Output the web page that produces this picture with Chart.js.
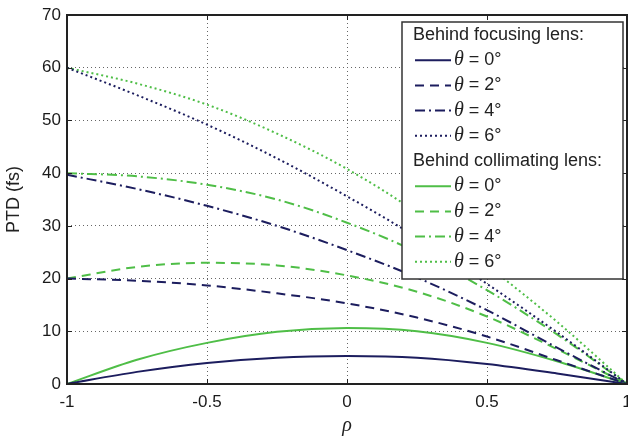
<!DOCTYPE html>
<html>
<head>
<meta charset="utf-8">
<script src="https://cdn.jsdelivr.net/npm/chart.js@4.4.0/dist/chart.umd.min.js"></script>
<style>
  html, body { margin: 0; padding: 0; background: #fff; }
  #wrap { width: 628px; height: 440px; position: relative; }
</style>
</head>
<body>
<div id="wrap"><canvas id="ptdChart"></canvas></div>
<script>
// normalised radius
const rho = [-1, -0.75, -0.5, -0.25, 0, 0.25, 0.5, 0.75, 1];

// behind focusing lens (navy)
const focus0 = [0, 2.3, 4.0, 5.0, 5.3, 5.0, 3.8, 2.0, 0];
const focus2 = [20, 19.6, 18.7, 17.2, 15.3, 12.6, 9.0, 4.5, 0];
const focus4 = [39.7, 37.0, 33.8, 30.0, 25.4, 20.2, 14.0, 6.9, 0];
const focus6 = [60, 54.8, 49.2, 42.8, 35.6, 27.8, 19.0, 9.8, 0];

// behind collimating lens (green)
const colli0 = [0, 4.6, 7.8, 9.9, 10.6, 10.0, 7.8, 4.3, 0];
const colli2 = [20, 22.2, 23.0, 22.5, 20.6, 17.5, 12.8, 6.6, 0];
const colli4 = [40, 39.4, 37.8, 35.0, 30.6, 25.0, 17.8, 9.4, 0];
const colli6 = [60, 57.0, 53.0, 47.5, 40.8, 32.5, 22.5, 11.8, 0];

const thetaLabels = ['0°', '2°', '4°', '6°'];
const xTicks = [-1, -0.5, 0, 0.5, 1];
const yTicks = [0, 10, 20, 30, 40, 50, 60, 70];

const navy = '#1c1d5e';
const green = '#4fbe47';
const dashes = [[], [9, 6], [10, 4, 2, 4], [2, 3]];

function toPoints(vals) {
    return rho.map((r, i) => ({ x: r, y: vals[i] }));
}

function makeSet(vals, color, k, group) {
    return {
        label: thetaLabels[k],
        group: group,
        data: toPoints(vals),
        borderColor: color,
        backgroundColor: color,
        borderWidth: 2,
        borderDash: dashes[k],
        pointRadius: 0,
        cubicInterpolationMode: 'monotone',
        fill: false
    };
}

const datasets = [
    makeSet(focus0, navy, 0, 'f'),
    makeSet(focus2, navy, 1, 'f'),
    makeSet(focus4, navy, 2, 'f'),
    makeSet(focus6, navy, 3, 'f'),
    makeSet(colli0, green, 0, 'c'),
    makeSet(colli2, green, 1, 'c'),
    makeSet(colli4, green, 2, 'c'),
    makeSet(colli6, green, 3, 'c')
];

const sans = '"Liberation Sans", Arial, sans-serif';

// frame, inward ticks and the two-part legend
const framePlugin = {
    id: 'frame',
    afterDatasetsDraw(chart) {
        const { ctx, chartArea: a, scales } = chart;
        ctx.save();
        ctx.strokeStyle = '#222';
        ctx.lineWidth = 1;
        ctx.setLineDash([]);
        const tl = 5;
        ctx.beginPath();
        xTicks.forEach(v => {
            const px = Math.round(scales.x.getPixelForValue(v)) + 0.5;
            ctx.moveTo(px, a.bottom); ctx.lineTo(px, a.bottom - tl);
            ctx.moveTo(px, a.top); ctx.lineTo(px, a.top + tl);
        });
        yTicks.forEach(v => {
            const py = Math.round(scales.y.getPixelForValue(v)) + 0.5;
            ctx.moveTo(a.left, py); ctx.lineTo(a.left + tl, py);
            ctx.moveTo(a.right, py); ctx.lineTo(a.right - tl, py);
        });
        ctx.stroke();
        ctx.lineWidth = 2;
        ctx.strokeRect(a.left, a.top, a.right - a.left, a.bottom - a.top);

        // legend box
        const bw = 221, bh = 257;
        const bx = a.right - 4 - bw, by = a.top + 7;
        ctx.fillStyle = '#fff';
        ctx.fillRect(bx, by, bw, bh);
        ctx.lineWidth = 1.5;
        ctx.strokeStyle = '#333';
        ctx.strokeRect(bx, by, bw, bh);

        const rowH = 25.2;
        let y = by + 13;
        ctx.textBaseline = 'middle';
        ctx.textAlign = 'left';
        const drawHeader = (txt) => {
            ctx.fillStyle = '#222';
            ctx.font = '18px ' + sans;
            ctx.fillText(txt, bx + 11, y);
            y += rowH;
        };
        const drawRow = (ds) => {
            ctx.strokeStyle = ds.borderColor;
            ctx.lineWidth = 2;
            ctx.setLineDash(ds.borderDash);
            ctx.beginPath();
            ctx.moveTo(bx + 13, y);
            ctx.lineTo(bx + 49, y);
            ctx.stroke();
            ctx.setLineDash([]);
            ctx.fillStyle = '#222';
            ctx.font = 'italic 20px "Liberation Serif", "Times New Roman", serif';
            ctx.fillText('θ', bx + 52, y);
            const w = ctx.measureText('θ').width;
            ctx.font = '18px ' + sans;
            ctx.fillText(' = ' + ds.label, bx + 52 + w, y);
            y += rowH;
        };
        drawHeader('Behind focusing lens:');
        datasets.filter(d => d.group === 'f').forEach(drawRow);
        drawHeader('Behind collimating lens:');
        datasets.filter(d => d.group === 'c').forEach(drawRow);
        ctx.restore();
    }
};

const tickFont = { family: sans, size: 17 };

const config = {
    type: 'line',
    data: { datasets: datasets },
    options: {
        responsive: true,
        maintainAspectRatio: false,
        animation: false,
        layout: { padding: { left: 0, right: 1, top: 15, bottom: 0 } },
        plugins: {
            legend: { display: false },
            tooltip: { enabled: false }
        },
        scales: {
            x: {
                type: 'linear',
                min: -1,
                max: 1,
                afterBuildTicks: (s) => { s.ticks = xTicks.map(v => ({ value: v })); },
                afterFit: (s) => { s.height = 56; s.paddingLeft = 0; s.paddingRight = 0; },
                grid: { color: '#666', lineWidth: 1, drawTicks: false },
                border: { display: false, dash: [1, 3] },
                ticks: { font: tickFont, color: '#1a1a1a', padding: 8, callback: (v) => String(v) },
                title: {
                    display: true,
                    text: 'ρ',
                    font: { family: '"Liberation Serif", serif', size: 20, style: 'italic' },
                    color: '#222',
                    padding: { top: 0, bottom: 2 }
                }
            },
            y: {
                min: 0,
                max: 70,
                afterBuildTicks: (s) => { s.ticks = yTicks.map(v => ({ value: v })); },
                afterFit: (s) => { s.width = 67; s.paddingTop = 0; s.paddingBottom = 0; },
                grid: { color: '#666', lineWidth: 1, drawTicks: false },
                border: { display: false, dash: [1, 3] },
                ticks: { font: tickFont, color: '#1a1a1a', padding: 6 },
                title: {
                    display: true,
                    text: 'PTD (fs)',
                    font: { family: sans, size: 18 },
                    color: '#222',
                    padding: { top: 3, bottom: 0 }
                }
            }
        }
    },
    plugins: [framePlugin]
};

const ctx = document.getElementById('ptdChart').getContext('2d');
const ptdChart = new Chart(ctx, config);
</script>
</body>
</html>
